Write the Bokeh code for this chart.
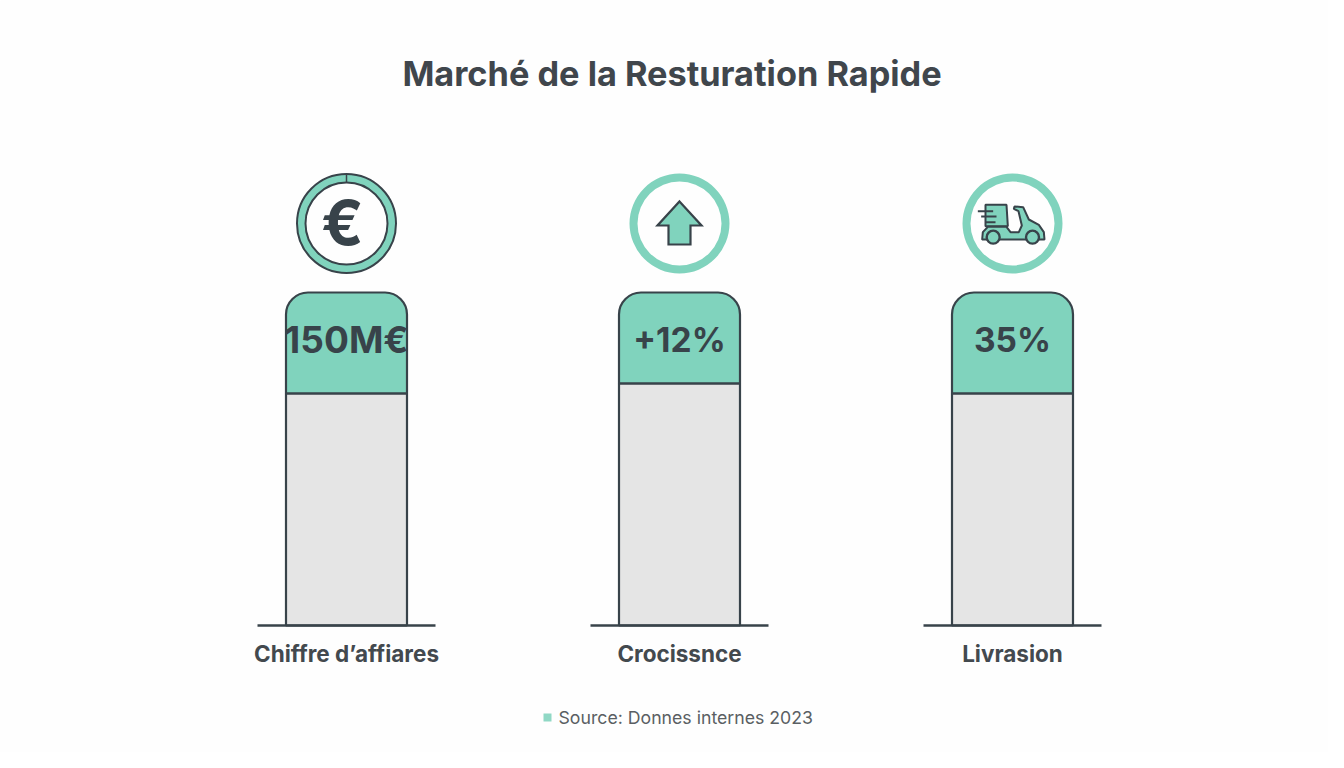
from bokeh.core.properties import value
from bokeh.embed import file_html
from bokeh.plotting import figure
from bokeh.resources import INLINE

# data
categories = ["Chiffre d’affiares", "Crocissnce", "Livrasion"]
value_labels = ["150M€", "+12%", "35%"]
positions = [0, 1, 2]
# share of each column filled with teal, the rest is grey
teal_share = [30.3, 27.3, 30.3]
full = 100

title = "Marché de la Resturation Rapide"
source = "Source: Donnes internes 2023"

TEAL = "#80d3bd"
GREY = "#e5e5e5"
DARK = "#38434a"
FONT = "Inter"

# scale of the plot: one column step is 333px, the full column is 333px
PX_X = 333.0
PX_Y = 3.33
x0, y0 = 346, 625   # pixel position of first column foot


def dx(px):
    return px / PX_X


def dy(px):
    return -px / PX_Y


p = figure(width=1328, height=752, output_backend="svg", toolbar_location=None,
           x_range=(dx(0 - x0), dx(1328 - x0)), y_range=(dy(752 - y0), dy(0 - y0)),
           x_axis_type=None, y_axis_type=None, min_border=0,
           background_fill_color="#fefefe", border_fill_color="#fefefe", outline_line_color=None)
p.grid.visible = False

# columns
grey_top = [full - t for t in teal_share]
p.vbar(x=positions, width=dx(121), bottom=0, top=grey_top, fill_color=GREY, line_color=DARK, line_width=2.2)
p.vbar(x=positions, width=dx(121), bottom=grey_top, top=full, fill_color=TEAL, line_color=DARK, line_width=2.2,
       border_radius=(22, 22, 0, 0))

# baselines
for i in positions:
    p.segment(x0=i - dx(89), x1=i + dx(89), y0=0, y1=0, line_color=DARK, line_width=2.5)

# rings
ring_y = dy(223 - y0)
p.annulus(x=positions[1:], y=ring_y, inner_radius=42, outer_radius=50, inner_radius_units="screen",
          outer_radius_units="screen", fill_color=TEAL, line_color=None)
p.annulus(x=[0], y=ring_y, inner_radius=41, outer_radius=49.5, inner_radius_units="screen",
          outer_radius_units="screen", fill_color=TEAL, line_color=DARK, line_width=2)
p.segment(x0=0, x1=0, y0=ring_y - dy(49.5), y1=ring_y - dy(41), line_color=DARK, line_width=1.5)

# euro icon
p.text(x=[dx(-4)], y=[ring_y + dy(-1)], text=["€"], text_font=value(FONT), text_font_style="bold", text_font_size="62px",
       text_color=DARK, text_align="center", text_baseline="middle")

# arrow icon
arrow = [(0, -22), (22, 2), (11, 2), (11, 21), (-11, 21), (-11, 2), (-22, 2)]
p.patch(x=[1 + dx(a) for a, _ in arrow], y=[ring_y + dy(b) for _, b in arrow],
        fill_color=TEAL, line_color=DARK, line_width=2.2, line_join="miter")

# scooter icon
cx, cy = 186, 174


def sx(z):
    return 2 + dx((z - cx) / 3)


def sy(z):
    return ring_y + dy((z - cy) / 3)


box = [(105, 118), (168, 118), (172, 182), (105, 182)]
p.patch(x=[sx(a) for a, _ in box], y=[sy(b) for _, b in box], fill_color=TEAL, line_color=DARK, line_width=2)
body = [(95, 222), (97, 200), (112, 184), (168, 184), (180, 200), (205, 200), (214, 180), (204, 137), (190, 130),
        (192, 123), (218, 125), (235, 162), (265, 178), (280, 200), (282, 222)]
p.patch(x=[sx(a) for a, _ in body], y=[sy(b) for _, b in body], fill_color=TEAL, line_color=DARK, line_width=2)
for z0, z1, zy in [(82, 128, 137), (92, 138, 153), (105, 135, 170)]:
    p.segment(x0=sx(z0), x1=sx(z1), y0=sy(zy), y1=sy(zy), line_color=DARK, line_width=2)
p.scatter(x=[sx(128), sx(246)], y=[sy(215), sy(215)], size=13, marker="circle", fill_color=TEAL, line_color=DARK, line_width=2.4)

# texts
p.text(x=positions, y=[dy(339 - y0)] * 3, text=value_labels, text_font=value(FONT), text_font_style="bold",
       text_font_size=["37px", "33.5px", "33.5px"], text_color=DARK, text_align="center", text_baseline="middle")
p.text(x=positions, y=[dy(653 - y0)] * 3, text=categories, text_font=value(FONT), text_font_style="bold",
       text_font_size="22.5px", text_color="#43494e", text_align="center", text_baseline="middle")
p.text(x=[dx(671.5 - x0)], y=[dy(73 - y0)], text=[title], text_font=value(FONT), text_font_style="bold",
       text_font_size="34.3px", text_color="#40464c", text_align="center", text_baseline="middle")
p.text(x=[dx(558 - x0)], y=[dy(717 - y0)], text=[source], text_font=value(FONT), text_font_size="17.7px",
       text_color="#5a5f63", text_align="left", text_baseline="middle")
p.scatter(x=[dx(547 - x0)], y=[dy(717 - y0)], size=8, marker="square", fill_color="#90d8c5", line_color=None)

open("out.html", "w").write(file_html(p, INLINE))
